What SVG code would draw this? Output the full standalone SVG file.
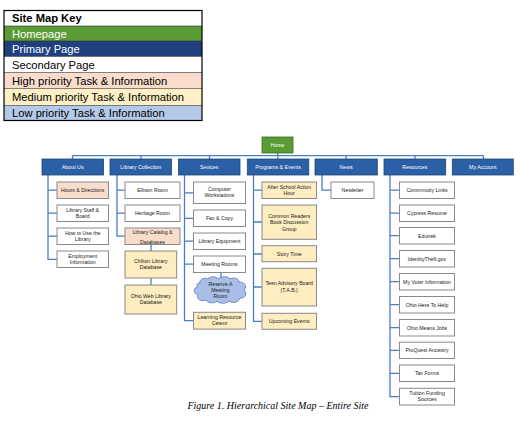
<svg xmlns="http://www.w3.org/2000/svg" width="520" height="431" viewBox="0 0 520 431">
<style>
.key{font-family:"Liberation Sans",Arial,sans-serif;font-size:11.2px;fill:#000}
.kw{fill:#fff}
.p{fill:#2b5fa6;stroke:#1f4676;stroke-width:0.8}
.pt{font-family:"Liberation Sans",Arial,sans-serif;font-size:5.3px;fill:#fff;text-anchor:middle}
.s{fill:#fff;stroke:#8a8a8a;stroke-width:1}
.hi{fill:#f9dccb;stroke:#8a8a8a;stroke-width:1}
.md{fill:#fdedc0;stroke:#8a8a8a;stroke-width:1}
.t{font-family:"Liberation Sans",Arial,sans-serif;font-size:5.2px;fill:#222;text-anchor:middle}
.c{fill:none;stroke:#4a7ec2;stroke-width:1.3}
</style>
<rect width="520" height="431" fill="#fff"/>
<g id="key">
<rect x="4" y="10.5" width="198" height="15.5" fill="#fff"/>
<rect x="4" y="26" width="198" height="15" fill="#5b9b35"/>
<rect x="4" y="41" width="198" height="15.5" fill="#203f7e"/>
<rect x="4" y="56.5" width="198" height="16" fill="#fff"/>
<rect x="4" y="72.5" width="198" height="16" fill="#f9dccb"/>
<rect x="4" y="88.5" width="198" height="17" fill="#fdefc6"/>
<rect x="4" y="105.5" width="198" height="15" fill="#b3c9e7"/>
<g stroke="#333" stroke-width="0.6">
<line x1="4" y1="26" x2="202" y2="26"/><line x1="4" y1="41" x2="202" y2="41"/>
<line x1="4" y1="56.5" x2="202" y2="56.5"/><line x1="4" y1="72.5" x2="202" y2="72.5"/>
<line x1="4" y1="88.5" x2="202" y2="88.5"/><line x1="4" y1="105.5" x2="202" y2="105.5"/>
</g>
<rect x="4" y="10.5" width="198" height="110" fill="none" stroke="#000" stroke-width="1.2"/>
<text class="key" x="12" y="22" font-weight="bold" font-size="10.5">Site Map Key</text>
<text class="key kw" x="12" y="37.5">Homepage</text>
<text class="key kw" x="12" y="52.5">Primary Page</text>
<text class="key" x="12" y="68.5">Secondary Page</text>
<text class="key" x="12" y="84.5">High priority Task &amp; Information</text>
<text class="key" x="12" y="101.3">Medium priority Task &amp; Information</text>
<text class="key" x="12" y="117">Low priority Task &amp; Information</text>
</g>
<g id="connectors">
<line class="c" x1="277.5" y1="153" x2="277.5" y2="155.7"/>
<line class="c" x1="72.5" y1="155.7" x2="483.5" y2="155.7"/>
<path class="c" d="M72.5 155.7V159M141 155.7V159M209.5 155.7V159M278 155.7V159M346 155.7V159M415 155.7V159M483.5 155.7V159"/>
<path class="c" d="M48 175V259.3H57M48 190.2H57M48 213.2H57M48 236.2H57"/>
<path class="c" d="M117 175V236.2H125M117 190.2H125M117 213.2H125"/>
<path class="c" d="M151 244.5V251M151 278V285"/>
<path class="c" d="M184.5 175V320.7H193.5M184.5 192.8H193.5M184.5 218.3H193.5M184.5 241.2H193.5M184.5 264.2H193.5"/>
<path class="c" d="M221 272.5V280"/>
<path class="c" d="M253.5 175V321.3H262M253.5 190.2H262M253.5 222H262M253.5 254H262M253.5 287H262"/>
<path class="c" d="M322 175V190.2H331"/>
<path class="c" d="M390 175V396.7H399.5M390 190.2H399.5M390 213.2H399.5M390 235.7H399.5M390 258.7H399.5M390 281.7H399.5M390 304.7H399.5M390 327.7H399.5M390 350.3H399.5M390 373.3H399.5"/>
</g>
<g id="home"><rect x="262" y="137" width="31" height="16" fill="#5b9b35" stroke="#3a6a20" stroke-width="0.8"/><text class="pt" x="277.5" y="146.8">Home</text></g>
<g id="about"><rect class="p" x="42" y="159" width="61.5" height="16"/><text class="pt" x="72.7" y="168.8">About  Us</text></g>
<g id="libcol"><rect class="p" x="110" y="159" width="61.5" height="16"/><text class="pt" x="140.8" y="168.8">Library Collection</text></g>
<g id="services"><rect class="p" x="178.5" y="159" width="61.5" height="16"/><text class="pt" x="209.2" y="168.8">Sevices</text></g>
<g id="programs"><rect class="p" x="247.3" y="159" width="61.5" height="16"/><text class="pt" x="278" y="168.8">Programs  &amp; Events</text></g>
<g id="news"><rect class="p" x="315" y="159" width="62.3" height="16"/><text class="pt" x="346" y="168.8">News</text></g>
<g id="resources"><rect class="p" x="384" y="159" width="61.7" height="16"/><text class="pt" x="414.8" y="168.8">Resources</text></g>
<g id="account"><rect class="p" x="452.3" y="159" width="61" height="16"/><text class="pt" x="482.8" y="168.8">My Account</text></g>

<g id="hours"><rect class="hi" x="57" y="182" width="51.5" height="16.5"/><text class="t" x="82.7" y="192">Hours  &amp; Directions</text></g>
<g id="staff"><rect class="s" x="57" y="205" width="51.5" height="16.5"/><text class="t" x="82.7" y="211.8">Library  Staff &amp;</text><text class="t" x="82.7" y="218.2">Board</text></g>
<g id="howto"><rect class="s" x="57" y="228" width="51.5" height="16.5"/><text class="t" x="82.7" y="234.8">How  to Use the</text><text class="t" x="82.7" y="241.2">Library</text></g>
<g id="employ"><rect class="s" x="57" y="251" width="51.5" height="16.5"/><text class="t" x="82.7" y="257.8">Employment</text><text class="t" x="82.7" y="264.2">Information</text></g>

<g id="ellison"><rect class="s" x="125" y="182" width="55" height="16.5"/><text class="t" x="152.5" y="192">Ellison  Room</text></g>
<g id="heritage"><rect class="s" x="125" y="205" width="55" height="16.5"/><text class="t" x="152.5" y="215">Heritage  Room</text></g>
<g id="catalog"><rect class="hi" x="125" y="228" width="55" height="16.5"/><text class="t" x="152.5" y="234.3">Library  Catalog  &amp;</text><text class="t" x="152.5" y="243.6">Databases</text></g>
<g id="chilton"><rect class="md" x="125" y="251" width="51.7" height="27"/><text class="t" x="150.8" y="263">Chilton  Library</text><text class="t" x="150.8" y="269.3">Database</text></g>
<g id="ohioweb"><rect class="md" x="125" y="285" width="51.7" height="29"/><text class="t" x="150.8" y="298">Ohio Web Library</text><text class="t" x="150.8" y="304.3">Database</text></g>

<g id="computer"><rect class="s" x="193.5" y="182" width="52" height="21.5"/><text class="t" x="219.5" y="191">Computer</text><text class="t" x="219.5" y="197.4">Workstations</text></g>
<g id="fax"><rect class="s" x="193.5" y="210" width="52" height="16.5"/><text class="t" x="219.5" y="220">Fax &amp; Copy</text></g>
<g id="equip"><rect class="s" x="193.5" y="233" width="52" height="16.5"/><text class="t" x="219.5" y="243">Library  Equipment</text></g>
<g id="meeting"><rect class="s" x="193.5" y="256" width="52" height="16.5"/><text class="t" x="219.5" y="266">Meeting  Rooms</text></g>
<g id="reserve"><path d="M200 283 C199 279 205 277 208 279 C210 276 216 276 218 279 C221 276 228 276 230 279 C233 277 239 278 239 282 C244 282 248 286 244 290 C248 293 245 299 240 298 C239 302 233 304 229 301 C226 304 219 304 217 301 C214 304 207 303 206 300 C201 302 196 299 198 295 C193 294 193 287 198 287 C196 285 197 283 200 283 Z" fill="#a8bee6" stroke="#6483c0" stroke-width="0.9"/><text class="t" x="220.5" y="285.5">Reserve  A</text><text class="t" x="220.5" y="291.8">Meeting</text><text class="t" x="220.5" y="298.1">Room</text></g>
<g id="learning"><rect class="md" x="193.5" y="312.3" width="52" height="16.8"/><text class="t" x="219.5" y="319">Learning  Resource</text><text class="t" x="219.5" y="325.4">Cetenr</text></g>

<g id="afterschool"><rect class="md" x="262" y="182" width="54.5" height="16.5"/><text class="t" x="289.2" y="188.6">After School Action</text><text class="t" x="289.2" y="195">Hour</text></g>
<g id="common"><rect class="md" x="262" y="205" width="54.5" height="34.3"/><text class="t" x="289.2" y="217.6">Common  Readers</text><text class="t" x="289.2" y="224">Book  Discussion</text><text class="t" x="289.2" y="230.5">Group</text></g>
<g id="story"><rect class="md" x="262" y="245.7" width="54.5" height="16"/><text class="t" x="289.2" y="255.5">Story Time</text></g>
<g id="teen"><rect class="md" x="262" y="268.3" width="54.5" height="37.7"/><text class="t" x="289.2" y="285.3">Teen Advisory  Board</text><text class="t" x="289.2" y="291.8">(T.A.B.)</text></g>
<g id="upcoming"><rect class="md" x="262" y="313.3" width="54.5" height="16"/><text class="t" x="289.2" y="323.1">Upcoming  Events</text></g>

<g id="newsletter"><rect class="s" x="331" y="182" width="43" height="16.5"/><text class="t" x="352.5" y="192">Newletter</text></g>

<g id="r1"><rect class="s" x="399.5" y="182" width="55" height="16.5"/><text class="t" x="427" y="192">Commmuity   Links</text></g>
<g id="r2"><rect class="s" x="399.5" y="205" width="55" height="16.5"/><text class="t" x="427" y="215">Cypress  Resume</text></g>
<g id="r3"><rect class="s" x="399.5" y="227.5" width="55" height="16.5"/><text class="t" x="427" y="237.5">Edutrek</text></g>
<g id="r4"><rect class="s" x="399.5" y="250.5" width="55" height="16.5"/><text class="t" x="427" y="260.5">IdentityTheft.gov</text></g>
<g id="r5"><rect class="s" x="399.5" y="273.5" width="55" height="16.5"/><text class="t" x="427" y="283.5">My Voter  Information</text></g>
<g id="r6"><rect class="s" x="399.5" y="296.5" width="55" height="16.5"/><text class="t" x="427" y="306.5">Ohio  Here  To Help</text></g>
<g id="r7"><rect class="s" x="399.5" y="319.5" width="55" height="16.5"/><text class="t" x="427" y="329.5">Ohio  Means  Jobs</text></g>
<g id="r8"><rect class="s" x="399.5" y="342.2" width="55" height="16.3"/><text class="t" x="427" y="352.2">ProQuest  Ancestry</text></g>
<g id="r9"><rect class="s" x="399.5" y="365" width="55" height="16.5"/><text class="t" x="427" y="375">Tax Forms</text></g>
<g id="r10"><rect class="s" x="399.5" y="388.3" width="55" height="16.7"/><text class="t" x="427" y="395">Tuition  Funding</text><text class="t" x="427" y="401.4">Sources</text></g>

<text x="278" y="409" font-family="'Liberation Serif','Times New Roman',serif" font-style="italic" font-size="10" text-anchor="middle" fill="#000">Figure 1. Hierarchical Site Map – Entire Site</text>
</svg>
